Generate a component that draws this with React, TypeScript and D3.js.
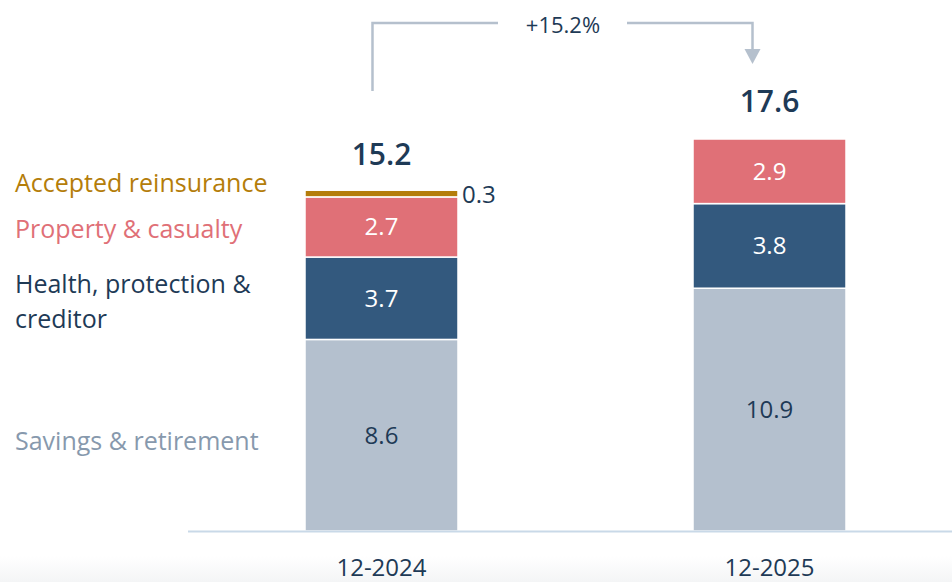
import React from "react";
import * as d3 from "d3";

const categories = ["12-2024", "12-2025"];
const seriesNames = ["Savings & retirement", "Health, protection & creditor", "Property & casualty", "Accepted reinsurance"];
const savings = [8.6, 10.9];
const health = [3.7, 3.8];
const property = [2.7, 2.9];
const accepted = [0.3, 0];
const totals = [15.2, 17.6];
const growthLabel = "+15.2%";

const colors = ["#b4c0ce", "#33597e", "#e07077", "#b47d0a"];
const labelColors = ["#8799ad", "#1e3a56", "#e07077", "#b47d0a"];
const textColor = "#1e3a56";
const FONT = "'Open Sans', Lato, sans-serif";

export default function App() {
  const W = 952, H = 582;
  const x = d3.scaleBand().domain(categories).range([305, 846]).paddingInner(0.6057).paddingOuter(0);
  const y = d3.scaleLinear().domain([0, 17.6]).range([531, 139]);
  const series = [savings, health, property, accepted];
  const table = categories.map((c, i) => {
    const o: any = { cat: c };
    seriesNames.forEach((s, k) => (o[s] = series[k][i]));
    return o;
  });
  const stack = d3.stack<any>().keys(seriesNames)(table);
  const bw = x.bandwidth();

  const x0 = (x(categories[0]) ?? 0) + bw / 2;
  const x1 = (x(categories[1]) ?? 0) + bw / 2;
  const arrowColor = "#b5c0cd";
  const legendY = [441, 284, 229, 183];
  const LF = 25;

  return (
    <svg width={W} height={H} style={{ position: "absolute", left: 0, top: 0, fontFamily: FONT }}>
      <defs>
        <linearGradient id="bot" x1="0" y1="0" x2="0" y2="1">
          <stop offset="0" stopColor="#ffffff" />
          <stop offset="1" stopColor="#f4f5f6" />
        </linearGradient>
      </defs>
      <rect x={0} y={0} width={W} height={H} fill="#fff" />
      <rect x={0} y={556} width={W} height={26} fill="url(#bot)" />
      {stack.map((layer, k) =>
        layer.map((d, i) => {
          const v = d[1] - d[0];
          if (v <= 0) return null;
          const bx = x(categories[i]) ?? 0;
          const top = y(d[1]);
          const bot = y(d[0]);
          return (
            <g key={k + "-" + i}>
              <rect x={bx} y={top} width={bw} height={bot - top} fill={colors[k]} stroke="#fff" strokeWidth={1.5} />
              {k < 3 ? (
                <text x={bx + bw / 2} y={(top + bot) / 2} dy="0.35em" textAnchor="middle" fontSize={24}
                  fill={k === 0 ? textColor : "#fff"}>{v.toFixed(1)}</text>
              ) : (
                <text x={bx + bw + 4} y={(top + bot) / 2 + 1} dy="0.35em" textAnchor="start" fontSize={24}
                  fill={textColor}>{v.toFixed(1)}</text>
              )}
            </g>
          );
        })
      )}
      <line x1={188} x2={W} y1={531.5} y2={531.5} stroke="#c9d9e8" strokeWidth={2} />
      {categories.map((c, i) => (
        <text key={c} x={(x(c) ?? 0) + bw / 2} y={568} dy="0.35em" textAnchor="middle" fontSize={24} fill={textColor}>{c}</text>
      ))}
      {totals.map((t, i) => (
        <text key={"t" + i} x={(x(categories[i]) ?? 0) + bw / 2} y={y(t) - 38} dy="0.35em" textAnchor="middle"
          fontSize={30} fontWeight={600} fill={textColor}>{t.toFixed(1)}</text>
      ))}
      {/* growth arrow */}
      <path d={`M${x0 - 9},91 V23 H498`} fill="none" stroke={arrowColor} strokeWidth={2.5} />
      <path d={`M627,23 H${x1 - 17} V50`} fill="none" stroke={arrowColor} strokeWidth={2.5} />
      <path d={`M${x1 - 25},49 L${x1 - 9},49 L${x1 - 17},64 Z`} fill={arrowColor} />
      <text x={563} y={25} dy="0.35em" textAnchor="middle" fontSize={22} fill={textColor}>{growthLabel}</text>
      {/* legend labels */}
      <text x={15} y={legendY[3]} dy="0.35em" fontSize={LF} fill={labelColors[3]}>{seriesNames[3]}</text>
      <text x={15} y={legendY[2]} dy="0.35em" fontSize={LF} fill={labelColors[2]}>{seriesNames[2]}</text>
      <text x={15} y={legendY[1]} dy="0.35em" fontSize={LF} fill={labelColors[1]}>Health, protection &amp;</text>
      <text x={15} y={legendY[1] + 35} dy="0.35em" fontSize={LF} fill={labelColors[1]}>creditor</text>
      <text x={15} y={legendY[0]} dy="0.35em" fontSize={LF} fill={labelColors[0]}>{seriesNames[0]}</text>
    </svg>
  );
}
